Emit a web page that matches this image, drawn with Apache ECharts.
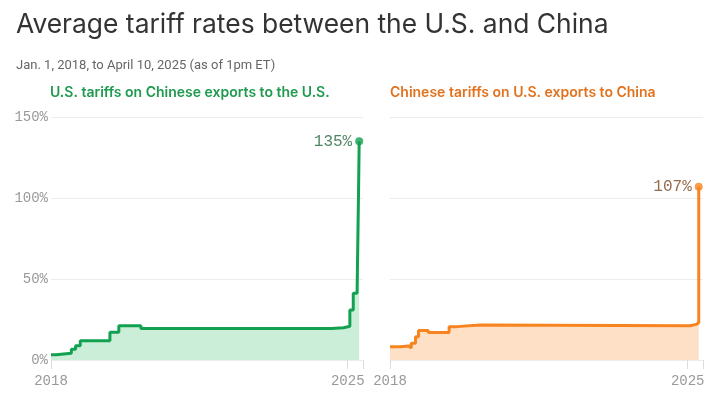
<!DOCTYPE html>
<html>
<head>
<meta charset="utf-8">
<title>Average tariff rates between the U.S. and China</title>
<script src="https://cdn.jsdelivr.net/npm/echarts@6/dist/echarts.min.js"></script>
<style>
  html, body { margin: 0; padding: 0; background: #fff; }
  #chart { width: 720px; height: 397px; }
</style>
</head>
<body>
<div id="chart"></div>
<script>
// [year as decimal, tariff %]; each value holds from that date on
const usOnChina = [
  [2018.0, 3.2], [2018.12, 4.2], [2018.48, 6.6], [2018.58, 8.8], [2018.69, 11.9],
  [2019.39, 17.2], [2019.6, 21.1], [2020.12, 19.4], [2024.62, 19.9], [2024.9, 20.8],
  [2025.05, 30.9], [2025.13, 41.2], [2025.22, 42.3], [2025.255, 104], [2025.27, 135],
]
const chinaOnUs = [
  [2018.0, 8.2], [2018.24, 8.6], [2018.44, 7.4], [2018.5, 10.3], [2018.6, 14.4],
  [2018.67, 18.2], [2018.9, 16.9], [2019.39, 20.6], [2019.57, 21.6], [2020.12, 21.1],
  [2025.05, 22.0], [2025.2, 23.0], [2025.26, 107],
]
const yTicks = [0, 50, 100, 150]
const xYears = [2018, 2025]

const mono = '"Liberation Mono", "DejaVu Sans Mono", monospace'
const sans = 'Inter, Roboto, "Noto Sans", sans-serif'

const GREEN = '#12a150'
const ORANGE = '#f7841f'

const xAxisOf = (gridIndex) => ({
  type: 'value',
  gridIndex: gridIndex,
  min: xYears[0],
  max: 2025.36,
  interval: xYears[1] - xYears[0],
  axisLine: { show: false },
  axisTick: { show: true, length: 9, lineStyle: { color: '#ddd' } },
  splitLine: { show: false },
  axisLabel: {
    color: '#999',
    fontFamily: mono,
    fontSize: 14,
    margin: 14,
    formatter: (v) => (xYears.indexOf(v) >= 0 ? String(v) : ''),
  },
})

const yAxisOf = (gridIndex, showLabels) => ({
  type: 'value',
  gridIndex: gridIndex,
  min: yTicks[0],
  max: yTicks[yTicks.length - 1],
  interval: yTicks[1] - yTicks[0],
  axisLine: { show: false },
  axisTick: { show: false },
  splitLine: { lineStyle: { color: '#ececec', width: 1 } },
  axisLabel: {
    show: showLabels,
    color: '#999',
    fontFamily: mono,
    fontSize: 14,
    margin: 3,
    formatter: '{value}%',
  },
})

const stepSeries = (idx, data, line, fill) => ({
  type: 'line',
  xAxisIndex: idx,
  yAxisIndex: idx,
  data: data,
  step: 'end',
  showSymbol: false,
  lineStyle: { color: line, width: 3 },
  areaStyle: { color: fill, opacity: 1 },
  silent: true,
  z: 2,
})

const endDot = (idx, data, color, labelColor) => ({
  type: 'scatter',
  xAxisIndex: idx,
  yAxisIndex: idx,
  data: [data[data.length - 1]],
  symbolSize: 8,
  itemStyle: { color: color },
  label: {
    show: true,
    position: 'left',
    distance: 3,
    color: labelColor,
    fontFamily: mono,
    fontSize: 16,
    formatter: (p) => p.value[1] + '%',
  },
  z: 3,
})

const option = {
  animation: false,
  backgroundColor: '#fff',
  title: [
    {
      text: 'Average tariff rates between the U.S. and China',
      left: 11,
      top: 7,
      textStyle: { fontFamily: sans, fontSize: 26.4, fontWeight: 400, color: '#333' },
    },
    {
      text: 'Jan. 1, 2018, to April 10, 2025 (as of 1pm ET)',
      left: 11,
      top: 54,
      textStyle: { fontFamily: 'Roboto, sans-serif', fontSize: 13, fontWeight: 400, color: '#666' },
    },
    {
      text: 'U.S. tariffs on Chinese exports to the U.S.',
      left: 45,
      top: 81,
      textStyle: { fontFamily: sans, fontSize: 14, fontWeight: 600, color: '#1f9a4f' },
    },
    {
      text: 'Chinese tariffs on U.S. exports to China',
      left: 385,
      top: 81,
      textStyle: { fontFamily: sans, fontSize: 14, fontWeight: 600, color: '#e2721d' },
    },
  ],
  grid: [
    { left: 51, width: 312, top: 117, height: 243 },
    { left: 390, width: 313, top: 117, height: 243 },
  ],
  xAxis: [xAxisOf(0), xAxisOf(1)],
  yAxis: [yAxisOf(0, true), yAxisOf(1, false)],
  series: [
    stepSeries(0, usOnChina, GREEN, '#cbeed8'),
    stepSeries(1, chinaOnUs, ORANGE, '#fde0c6'),
    endDot(0, usOnChina, GREEN, '#23653c'),
    endDot(1, chinaOnUs, ORANGE, '#7a4620'),
  ],
}

const c = echarts.init(document.getElementById('chart'), null, { renderer: 'canvas' })
c.setOption(option)
</script>
</body>
</html>
